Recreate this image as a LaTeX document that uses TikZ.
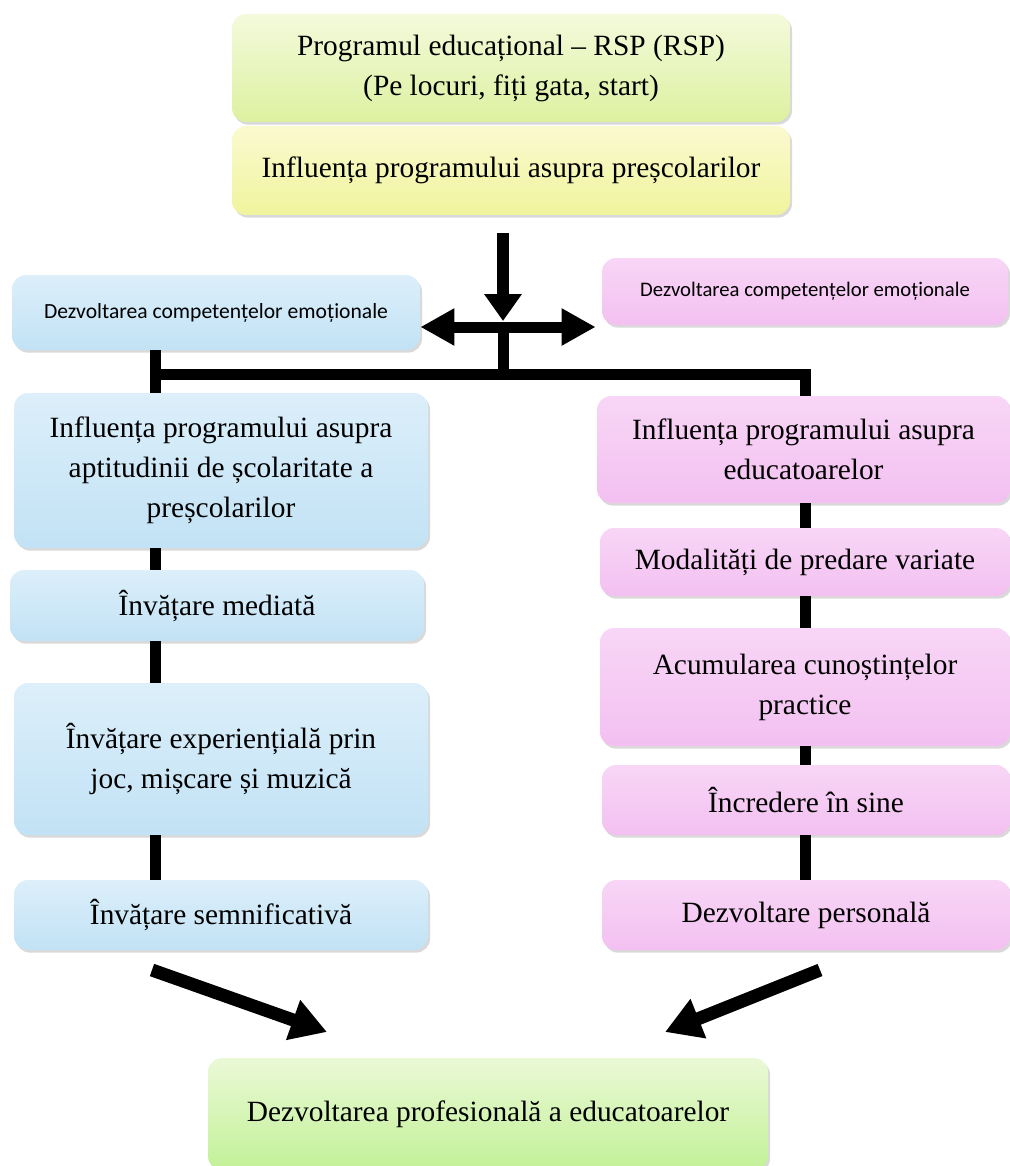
\documentclass[tikz,border=0pt]{standalone}
\usepackage{fontspec}
\setmainfont{Liberation Serif}
\newfontfamily\calfont{Carlito}
\usetikzlibrary{positioning,arrows.meta,shadows}
\definecolor{bluetop}{HTML}{DCEFFA}
\definecolor{bluebot}{HTML}{C2E2F5}
\definecolor{pinktop}{HTML}{F8D6F6}
\definecolor{pinkbot}{HTML}{F3C0F1}
\definecolor{limetop}{HTML}{F4FADC}
\definecolor{limebot}{HTML}{DDF1A0}
\definecolor{yelltop}{HTML}{FAFAD0}
\definecolor{yellbot}{HTML}{F0F49C}
\definecolor{greentop}{HTML}{EAF9D6}
\definecolor{greenbot}{HTML}{C2F197}
\begin{document}
\begin{tikzpicture}[x=0.5pt,y=-0.5pt,
  box/.style = {rounded corners=7pt, align=center, inner sep=2pt,
    font=\fontsize{14.7}{20}\selectfont,
    drop shadow={opacity=0.3, shadow xshift=1pt, shadow yshift=-1.3pt}},
  bluebox/.style = {box, top color=bluetop, bottom color=bluebot},
  pinkbox/.style = {box, top color=pinktop, bottom color=pinkbot},
  small/.style = {font=\calfont\fontsize{10.8}{12}\selectfont},
  link/.style = {line width=5.5pt},
  arr/.style = {line width=6pt, -{Triangle[width=18pt,length=13.5pt]}},
  darr/.style = {line width=5.5pt, {Triangle[width=17.5pt,length=17pt]}-{Triangle[width=17.5pt,length=17pt]}},
  bigarr/.style = {line width=6.5pt, -{Triangle[width=20pt,length=18pt]}}]
	\useasboundingbox (0,0) rectangle (1010,1166);
	% top of the chart
	\node[box, top color=limetop, bottom color=limebot, minimum width=279pt, minimum height=54pt] (prog) at (511,68) {Programul educațional – RSP (RSP)\\(Pe locuri, fiți gata, start)};
	\node[box, top color=yelltop, bottom color=yellbot, minimum width=279pt, minimum height=44.5pt] (infl) at (511,170.5) {Influența programului asupra preșcolarilor};
	\coordinate (hub) at (503,327);
	\coordinate (bar) at (503,374.5);
	\coordinate (spineL) at (155,0);
	\coordinate (spineR) at (805,0);
	% left column
	\node[bluebox, small, minimum width=204pt, minimum height=37.5pt] (emoL) at (216,312.5) {Dezvoltarea competențelor emoționale};
	\node[bluebox, minimum width=207pt, minimum height=77.5pt] (apt) at (221,470.5) {Influența programului asupra\\aptitudinii de școlaritate a\\preșcolarilor};
	\node[bluebox, minimum width=207pt, minimum height=35.5pt] (med) at (217,605.5) {Învățare mediată};
	\node[bluebox, minimum width=207pt, minimum height=76pt] (exp) at (221,759) {Învățare experiențială prin\\joc, mișcare și muzică};
	\node[bluebox, minimum width=207pt, minimum height=35pt] (sem) at (221,915) {Învățare semnificativă};
	% right column
	\node[pinkbox, small, font=\calfont\fontsize{10.35}{12}\selectfont, minimum width=203pt, minimum height=33.5pt] (emoR) at (805,291.5) {Dezvoltarea competențelor emoționale};
	\node[pinkbox, minimum width=206.5pt, minimum height=53.5pt] (edu) at (803.5,449.5) {Influența programului asupra\\educatoarelor};
	\node[pinkbox, minimum width=205pt, minimum height=34pt] (pred) at (805,562) {Modalități de predare variate};
	\node[pinkbox, minimum width=205pt, minimum height=59pt] (cun) at (805,687) {Acumularea cunoștințelor\\practice};
	\node[pinkbox, minimum width=204pt, minimum height=35pt] (sine) at (806,800) {Încredere în sine};
	\node[pinkbox, minimum width=204pt, minimum height=35pt] (pers) at (806,915) {Dezvoltare personală};
	% bottom
	\node[box, top color=greentop, bottom color=greenbot, minimum width=280pt, minimum height=56pt] (prof) at (488,1114) {Dezvoltarea profesională a educatoarelor};
	\coordinate (outL) at (152,970);
	\coordinate (inL) at (327,1032);
	\coordinate (outR) at (820,970);
	\coordinate (inR) at (665,1032);
	% connectors
	\draw[arr, shorten <=9pt, shorten >=3pt] (infl.south -| hub) -- (hub);
	\draw[darr, shorten >=3pt] (hub -| emoL.east) -- (hub -| emoR.west);
	\draw[link] (hub) -- (bar);
	\draw[link, line cap=rect] (bar -| spineL) -- (bar -| spineR);
	\draw[link] (emoL.south -| spineL) -- (apt.north -| spineL);
	\draw[link] (bar -| spineR) -- (edu.north -| spineR);
	\draw[link] (apt.south -| spineL) -- (med.north -| spineL);
	\draw[link] (med.south -| spineL) -- (exp.north -| spineL);
	\draw[link] (exp.south -| spineL) -- (sem.north -| spineL);
	\draw[link] (edu.south -| spineR) -- (pred.north -| spineR);
	\draw[link] (pred.south -| spineR) -- (cun.north -| spineR);
	\draw[link] (cun.south -| spineR) -- (sine.north -| spineR);
	\draw[link] (sine.south -| spineR) -- (pers.north -| spineR);
	\draw[bigarr] (outL) -- (inL);
	\draw[bigarr] (outR) -- (inR);
\end{tikzpicture}
\end{document}
